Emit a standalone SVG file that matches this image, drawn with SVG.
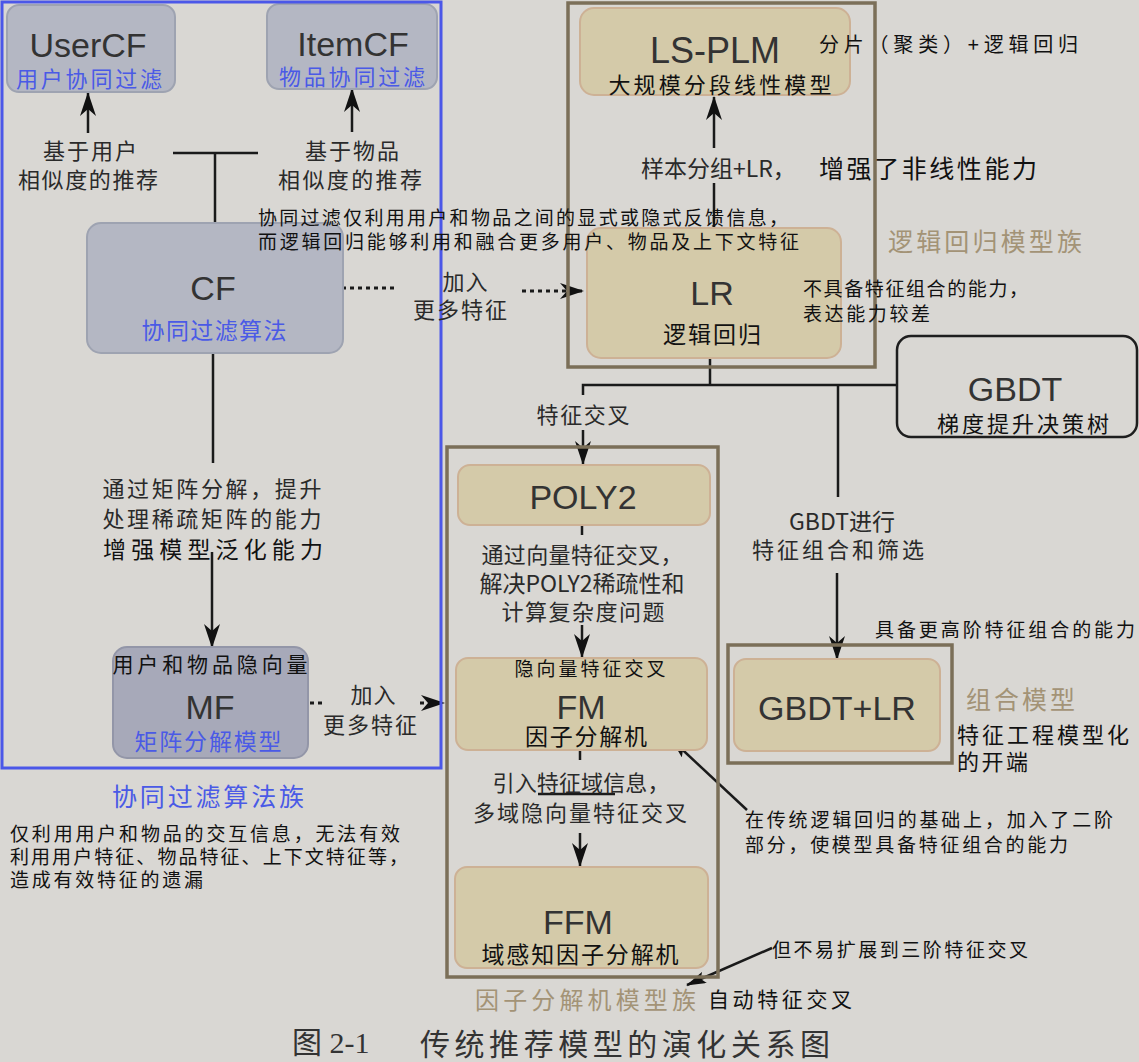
<svg xmlns="http://www.w3.org/2000/svg" width="1139" height="1062" viewBox="0 0 1139 1062">
<defs>
<style>
text{dominant-baseline:central;font-family:"Noto Sans CJK SC","Noto Sans",sans-serif;}
.lat{font-family:"Liberation Sans","DejaVu Sans",sans-serif;font-size:34px;fill:#333;text-anchor:middle;}
.p{font-size:22px;fill:#2a2a2a;}
.a{font-size:19px;fill:#111;}
.blue{fill:#4a5ae6;}
.brown{fill:#a39376;}
.m{text-anchor:middle;}
.cfn{fill:#b4b7c3;stroke:#9ea3b1;stroke-width:2;}
.mfn{fill:#a7a9b9;stroke:#9396a8;stroke-width:2;}
.bn{fill:#d4caa9;stroke:#cdb195;stroke-width:2;}
.fr{fill:none;stroke:#7b6f58;stroke-width:3.5;}
.ln{fill:none;stroke:#1a1a1a;stroke-width:2.5;}
.dot{fill:none;stroke:#1a1a1a;stroke-width:3;stroke-dasharray:4 4;}
</style>
<marker id="arr" viewBox="0 0 24 16" refX="23" refY="8" markerWidth="24" markerHeight="16" markerUnits="userSpaceOnUse" orient="auto">
<path d="M0,0 L24,8 L0,16 L7,8 Z" fill="#111"/>
</marker>
<marker id="arrS" viewBox="0 0 20 12" refX="19" refY="6" markerWidth="20" markerHeight="12" markerUnits="userSpaceOnUse" orient="auto">
<path d="M0,0 L20,6 L0,12 L4,6 Z" fill="#111"/>
</marker>
</defs>
<rect x="0" y="0" width="1139" height="1062" fill="#d9d7d3"/>

<g id="connectors">
<line class="ln" x1="88" y1="133" x2="88" y2="93" marker-end="url(#arr)"/>
<line class="ln" x1="352" y1="132" x2="352" y2="89" marker-end="url(#arr)"/>
<line class="ln" x1="173" y1="153" x2="258" y2="153"/>
<line class="ln" x1="215" y1="153" x2="215" y2="223"/>
<line class="ln" x1="213" y1="353" x2="213" y2="463"/>
<line class="ln" x1="212" y1="552" x2="212" y2="647" marker-end="url(#arr)"/>
<line class="dot" x1="342" y1="288" x2="398" y2="288"/>
<line class="dot" x1="522" y1="291" x2="583" y2="291" marker-end="url(#arr)"/>
<line class="dot" x1="310" y1="703" x2="324" y2="703"/>
<line class="dot" x1="420" y1="703" x2="444" y2="703" marker-end="url(#arr)"/>
<line class="ln" x1="714" y1="228" x2="714" y2="183"/>
<line class="ln" x1="714" y1="148" x2="714" y2="97" marker-end="url(#arr)"/>
<polyline class="ln" points="710,358 710,385"/>
<polyline class="ln" points="583,395 583,385 897,385"/>
<line class="ln" x1="583" y1="430" x2="583" y2="464" marker-end="url(#arr)"/>
<line class="ln" x1="838" y1="385" x2="838" y2="497"/>
<line class="ln" x1="837" y1="573" x2="837" y2="659" marker-end="url(#arr)"/>
<line class="ln" x1="582" y1="525" x2="582" y2="535"/>
<line class="ln" x1="582" y1="625" x2="582" y2="657" marker-end="url(#arr)"/>
<line class="ln" x1="580" y1="750" x2="580" y2="760"/>
<line class="ln" x1="580" y1="833" x2="580" y2="866" marker-end="url(#arr)"/>
<line class="ln" x1="747" y1="810" x2="672" y2="740" marker-end="url(#arrS)"/>
<line class="ln" x1="772" y1="948" x2="687" y2="985" marker-end="url(#arrS)"/>
<line class="ln" x1="538" y1="794" x2="615" y2="794"/>
</g>

<g id="node-usercf">
<rect class="cfn" x="7" y="5" width="168" height="87" rx="12"/>
<text class="lat" x="88" y="45">UserCF</text>
<text class="blue m" x="89" y="77" style="font-size:22px" textLength="146" lengthAdjust="spacing">用户协同过滤</text>
</g>
<g id="node-itemcf">
<rect class="cfn" x="267" y="4" width="170" height="85" rx="12"/>
<text class="lat" x="353" y="44">ItemCF</text>
<text class="blue m" x="352" y="75" style="font-size:22px" textLength="146" lengthAdjust="spacing">物品协同过滤</text>
</g>
<g id="node-cf">
<rect class="cfn" x="87" y="223" width="256" height="130" rx="14"/>
<text class="lat" x="213" y="288">CF</text>
<text class="blue m" x="214" y="329" style="font-size:23px" textLength="145" lengthAdjust="spacing">协同过滤算法</text>
</g>
<g id="node-mf">
<rect class="mfn" x="113" y="647" width="195" height="111" rx="14"/>
<text class="a m" x="210" y="663" style="font-size:21px" textLength="195" lengthAdjust="spacing">用户和物品隐向量</text>
<text class="lat" x="210" y="707">MF</text>
<text class="blue m" x="208" y="740" style="font-size:23px" textLength="147" lengthAdjust="spacing">矩阵分解模型</text>
</g>
<g id="node-lsplm">
<rect class="bn" x="580" y="8" width="270" height="87" rx="14"/>
<text class="lat" x="715" y="50" style="font-size:36px">LS-PLM</text>
<text class="a m" x="720" y="83" style="font-size:22px" textLength="223" lengthAdjust="spacing">大规模分段线性模型</text>
</g>
<g id="node-lr">
<rect class="bn" x="587" y="228" width="254" height="130" rx="14"/>
<text class="lat" x="712" y="293">LR</text>
<text class="a m" x="712" y="333" style="font-size:23px" textLength="98" lengthAdjust="spacing">逻辑回归</text>
</g>
<g id="node-gbdt">
<rect x="897" y="336" width="240" height="101" rx="14" fill="#d9d7d3" stroke="#1e1e1e" stroke-width="2.5"/>
<text class="lat" x="1015" y="389">GBDT</text>
<text class="a m" x="1023" y="422" style="font-size:22px" textLength="172" lengthAdjust="spacing">梯度提升决策树</text>
</g>
<g id="node-poly2">
<rect class="bn" x="458" y="465" width="252" height="60" rx="12"/>
<text class="lat" x="583" y="497">POLY2</text>
</g>
<g id="node-fm">
<rect class="bn" x="456" y="658" width="251" height="92" rx="12"/>
<text class="a m" x="590" y="667" textLength="151" lengthAdjust="spacing">隐向量特征交叉</text>
<text class="lat" x="581" y="707">FM</text>
<text class="a m" x="586" y="735" style="font-size:23px" textLength="122" lengthAdjust="spacing">因子分解机</text>
</g>
<g id="node-ffm">
<rect class="bn" x="455" y="867" width="253" height="101" rx="12"/>
<text class="lat" x="578" y="922">FFM</text>
<text class="a m" x="580" y="953" style="font-size:23px" textLength="197" lengthAdjust="spacing">域感知因子分解机</text>
</g>
<g id="node-gbdtlr">
<rect class="bn" x="734" y="659" width="206" height="92" rx="12"/>
<text class="lat" x="837" y="708">GBDT+LR</text>
</g>

<g id="frames">
<rect x="2" y="2" width="439" height="766" fill="none" stroke="#4b57e8" stroke-width="3"/>
<rect class="fr" x="568" y="3" width="307" height="364"/>
<rect class="fr" x="447" y="447" width="271" height="530"/>
<rect class="fr" x="728" y="645" width="224" height="118"/>
</g>

<g id="labels">
<text class="p m" x="90" y="149" textLength="94" lengthAdjust="spacing">基于用户</text>
<text class="p m" x="88" y="178" textLength="140" lengthAdjust="spacing">相似度的推荐</text>
<text class="p m" x="352" y="149" textLength="94" lengthAdjust="spacing">基于物品</text>
<text class="p m" x="350" y="178" textLength="144" lengthAdjust="spacing">相似度的推荐</text>
<text class="a" x="258" y="216" textLength="530" lengthAdjust="spacing">协同过滤仅利用用户和物品之间的显式或隐式反馈信息，</text>
<text class="a" x="258" y="240" textLength="541" lengthAdjust="spacing">而逻辑回归能够利用和融合更多用户、物品及上下文特征</text>
<text class="p m" x="465" y="280" textLength="45" lengthAdjust="spacing">加入</text>
<text class="p m" x="460" y="308" textLength="94" lengthAdjust="spacing">更多特征</text>
<text class="p m" x="212" y="487" textLength="219" lengthAdjust="spacing">通过矩阵分解，提升</text>
<text class="p m" x="212" y="517" textLength="219" lengthAdjust="spacing">处理稀疏矩阵的能力</text>
<text class="a m" x="213" y="548" style="font-size:23px" textLength="220" lengthAdjust="spacing">增强模型泛化能力</text>
<text class="p m" x="373" y="693" textLength="45" lengthAdjust="spacing">加入</text>
<text class="p m" x="370" y="723" textLength="94" lengthAdjust="spacing">更多特征</text>
<text class="a" x="819" y="43" style="font-size:20px" textLength="259" lengthAdjust="spacing">分片（聚类）+逻辑回归</text>
<text class="p" x="641" y="167" style="font-size:23px">样本分组+LR，</text>
<text class="a" x="819" y="167" style="font-size:25px" textLength="218" lengthAdjust="spacing">增强了非线性能力</text>
<text class="brown" x="888" y="240" style="font-size:25px" textLength="194" lengthAdjust="spacing">逻辑回归模型族</text>
<text class="a" x="803" y="287" textLength="225" lengthAdjust="spacing">不具备特征组合的能力，</text>
<text class="a" x="803" y="312" textLength="127" lengthAdjust="spacing">表达能力较差</text>
<text class="p m" x="583" y="413" textLength="93" lengthAdjust="spacing">特征交叉</text>
<text class="p m" x="842" y="520" style="font-size:23px">GBDT进行</text>
<text class="p m" x="838" y="548" textLength="172" lengthAdjust="spacing">特征组合和筛选</text>
<text class="a" x="875" y="628" textLength="260" lengthAdjust="spacing">具备更高阶特征组合的能力</text>
<text class="brown" x="966" y="698" style="font-size:25px" textLength="109" lengthAdjust="spacing">组合模型</text>
<text class="a" x="957" y="733" style="font-size:22px" textLength="172" lengthAdjust="spacing">特征工程模型化</text>
<text class="a" x="957" y="760" style="font-size:22px" textLength="71" lengthAdjust="spacing">的开端</text>
<text class="p m" x="582" y="553" textLength="201" lengthAdjust="spacing">通过向量特征交叉，</text>
<text class="p m" x="582" y="582" style="font-size:23px">解决POLY2稀疏性和</text>
<text class="p m" x="583" y="610" textLength="163" lengthAdjust="spacing">计算复杂度问题</text>
<text class="p m" x="581" y="781" textLength="177" lengthAdjust="spacing">引入特征域信息，</text>
<text class="p m" x="580" y="811" textLength="214" lengthAdjust="spacing">多域隐向量特征交叉</text>
<text class="brown" x="475" y="998" style="font-size:24px" textLength="221" lengthAdjust="spacing">因子分解机模型族</text>
<text class="a" x="708" y="998" style="font-size:21px" textLength="144" lengthAdjust="spacing">自动特征交叉</text>
<text class="a" x="745" y="818" textLength="368" lengthAdjust="spacing">在传统逻辑回归的基础上，加入了二阶</text>
<text class="a" x="745" y="843" textLength="323" lengthAdjust="spacing">部分，使模型具备特征组合的能力</text>
<text class="a" x="772" y="948" textLength="256" lengthAdjust="spacing">但不易扩展到三阶特征交叉</text>
<text class="blue" x="112" y="795" style="font-size:25px" textLength="192" lengthAdjust="spacing">协同过滤算法族</text>
<text class="a" x="10" y="832" textLength="390" lengthAdjust="spacing">仅利用用户和物品的交互信息，无法有效</text>
<text class="a" x="10" y="855" textLength="398" lengthAdjust="spacing">利用用户特征、物品特征、上下文特征等，</text>
<text class="a" x="10" y="878" textLength="193" lengthAdjust="spacing">造成有效特征的遗漏</text>
<text x="292" y="1042" style="font-size:30px;font-family:'Liberation Serif','Noto Sans CJK SC',serif" fill="#333">图 2-1</text>
<text x="420" y="1042" style="font-size:30px" fill="#333" textLength="410" lengthAdjust="spacing">传统推荐模型的演化关系图</text>
</g>
</svg>
